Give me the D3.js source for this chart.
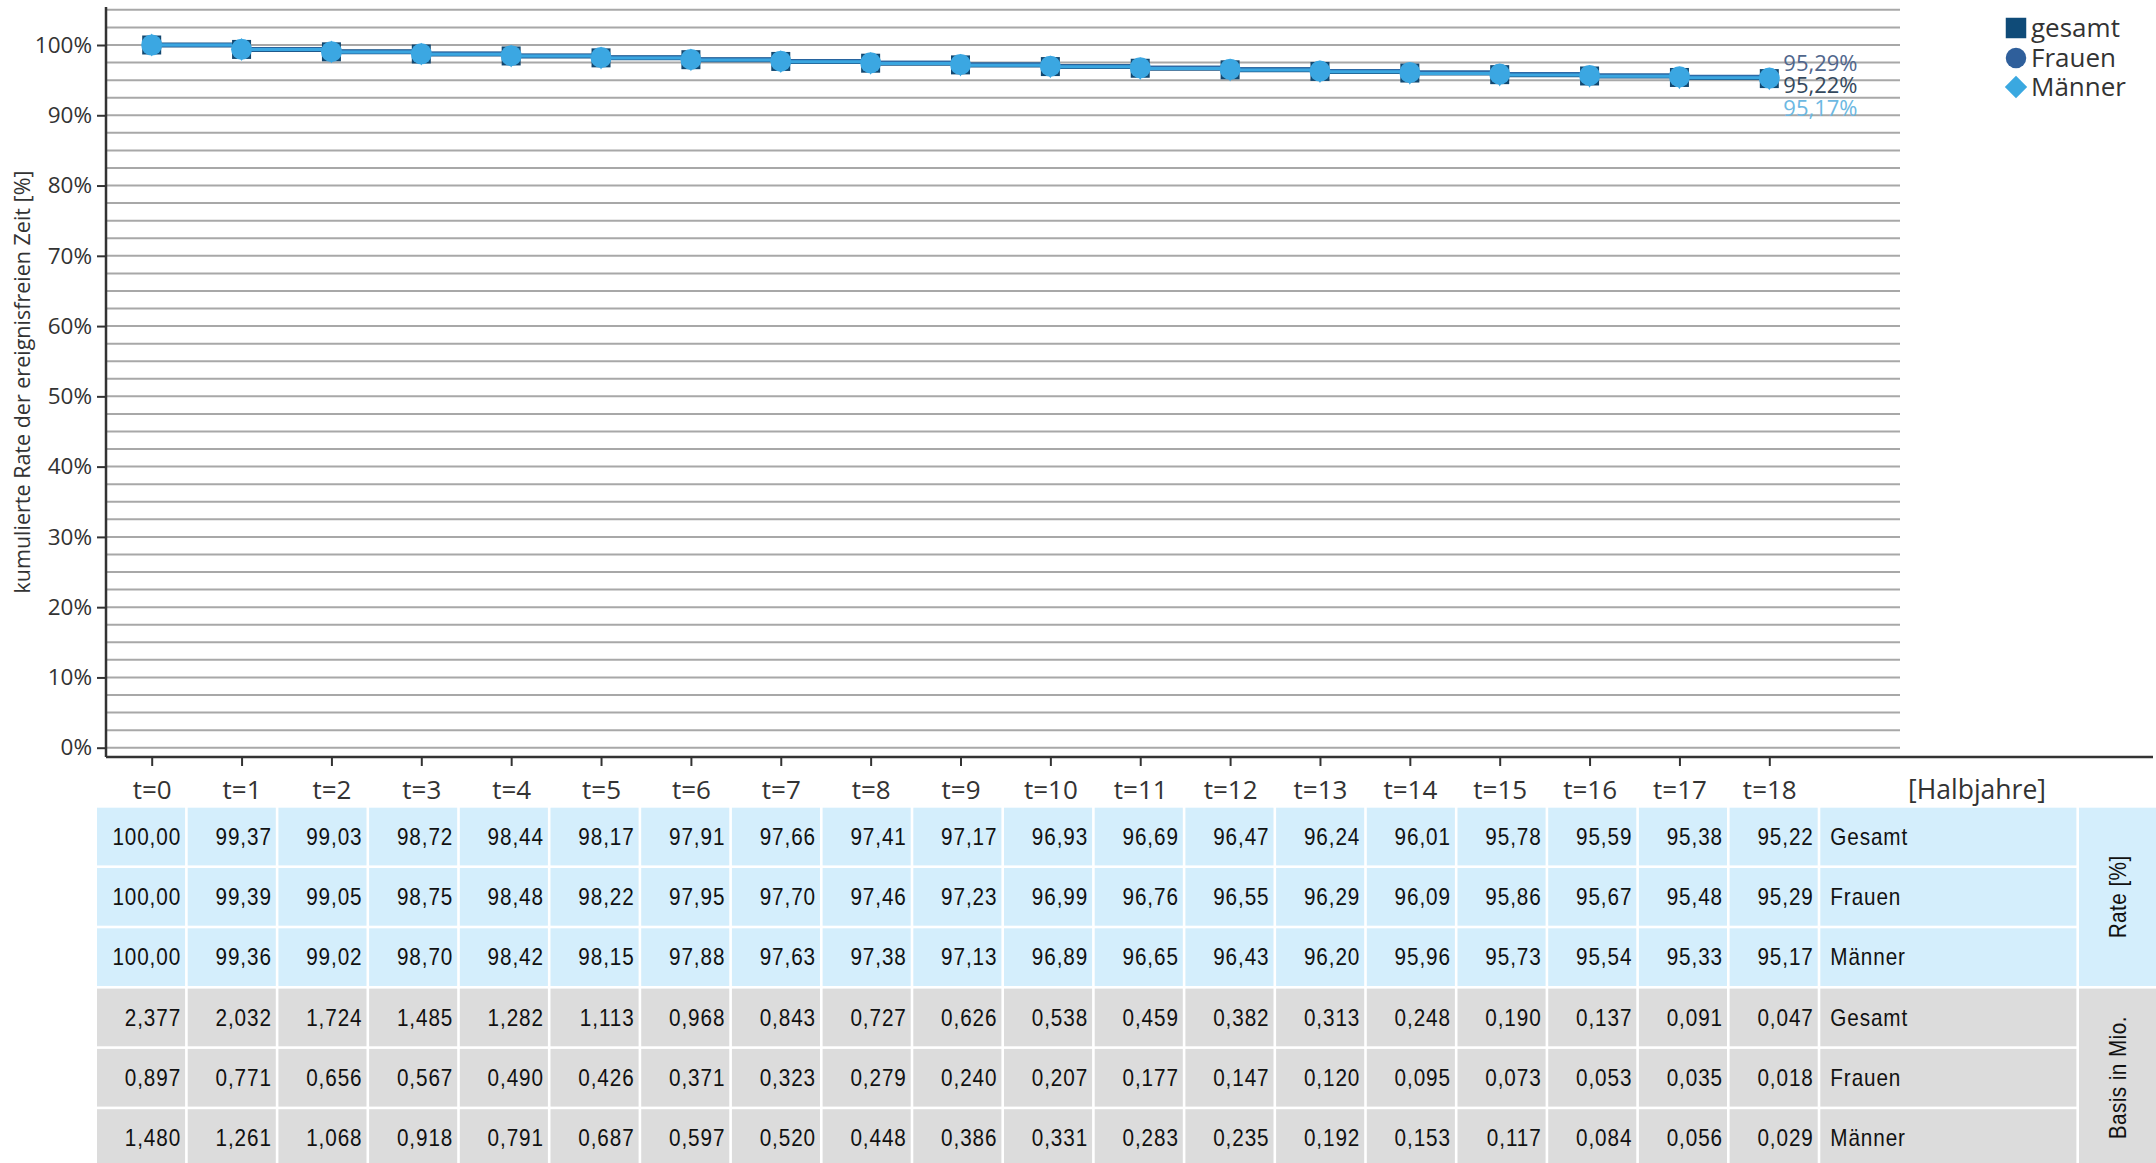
<!DOCTYPE html>
<html>
<head>
<meta charset="utf-8">
<script src="https://cdn.jsdelivr.net/npm/d3@7"></script>
<style>
  body { margin: 0; background: #fff; }
  svg { display: block; }
  .axis text { font-family: "Open Sans", sans-serif; fill: #333; }
  .tbl { font-family: "Liberation Sans", Arial, sans-serif; font-size: 23px; fill: #111; letter-spacing: 1px; }
</style>
</head>
<body>
<div id="chart"></div>
<script>
// tick labels
const tLabels = ["t=0","t=1","t=2","t=3","t=4","t=5","t=6","t=7","t=8","t=9",
                 "t=10","t=11","t=12","t=13","t=14","t=15","t=16","t=17","t=18"];
const yTicks = [0, 10, 20, 30, 40, 50, 60, 70, 80, 90, 100];

// cumulative event free rate [%]
const rateGesamt = [100.00, 99.37, 99.03, 98.72, 98.44, 98.17, 97.91, 97.66, 97.41, 97.17,
                    96.93, 96.69, 96.47, 96.24, 96.01, 95.78, 95.59, 95.38, 95.22];
const rateFrauen = [100.00, 99.39, 99.05, 98.75, 98.48, 98.22, 97.95, 97.70, 97.46, 97.23,
                    96.99, 96.76, 96.55, 96.29, 96.09, 95.86, 95.67, 95.48, 95.29];
const rateMaenner = [100.00, 99.36, 99.02, 98.70, 98.42, 98.15, 97.88, 97.63, 97.38, 97.13,
                     96.89, 96.65, 96.43, 96.20, 95.96, 95.73, 95.54, 95.33, 95.17];

// basis in Mio.
const basisGesamt = [2.377, 2.032, 1.724, 1.485, 1.282, 1.113, 0.968, 0.843, 0.727, 0.626,
                     0.538, 0.459, 0.382, 0.313, 0.248, 0.190, 0.137, 0.091, 0.047];
const basisFrauen = [0.897, 0.771, 0.656, 0.567, 0.490, 0.426, 0.371, 0.323, 0.279, 0.240,
                     0.207, 0.177, 0.147, 0.120, 0.095, 0.073, 0.053, 0.035, 0.018];
const basisMaenner = [1.480, 1.261, 1.068, 0.918, 0.791, 0.687, 0.597, 0.520, 0.448, 0.386,
                      0.331, 0.283, 0.235, 0.192, 0.153, 0.117, 0.084, 0.056, 0.029];

const seriesNames = ["gesamt", "Frauen", "Männer"];
const rowNames = ["Gesamt", "Frauen", "Männer"];

const W = 2156, H = 1163;
const svg = d3.select("#chart").append("svg").attr("width", W).attr("height", H);

// scales
const x = d3.scaleLinear().domain([0, 18]).range([151.7, 1769.3]);
const y = d3.scaleLinear().domain([0, 100]).range([747.7, 45]);
const axisX = 106, axisY = 757, gridRight = 1900;

// grid lines every 2.5%
svg.append("g").selectAll("line")
  .data(d3.range(0, 105.01, 2.5))
  .join("line")
    .attr("x1", axisX + 1).attr("x2", gridRight)
    .attr("y1", d => y(d)).attr("y2", d => y(d))
    .attr("stroke", "#a8a8a8").attr("stroke-width", 2);

// y axis
const gy = svg.append("g").attr("class", "axis")
  .attr("transform", "translate(" + axisX + ",0)")
  .call(d3.axisLeft(y).tickValues(yTicks).tickSize(9).tickFormat(d => d + "%"));
gy.select(".domain").remove();
gy.selectAll(".tick line").attr("stroke", "#333").attr("stroke-width", 2);
gy.selectAll(".tick text").attr("x", -14).attr("font-size", 22.5);
svg.append("line")
  .attr("x1", axisX).attr("x2", axisX).attr("y1", y(105.4)).attr("y2", axisY)
  .attr("stroke", "#333").attr("stroke-width", 2.5);

// x axis
const gx = svg.append("g").attr("class", "axis")
  .attr("transform", "translate(0," + axisY + ")")
  .call(d3.axisBottom(x).tickValues(d3.range(tLabels.length)).tickSize(9).tickFormat(i => tLabels[i]));
gx.select(".domain").remove();
gx.selectAll(".tick line").attr("stroke", "#333").attr("stroke-width", 2);
gx.selectAll(".tick text").attr("y", 33).attr("dy", "0.35em").attr("font-size", 26);
svg.append("line")
  .attr("x1", axisX).attr("x2", 2153).attr("y1", axisY).attr("y2", axisY)
  .attr("stroke", "#333").attr("stroke-width", 2.5);

svg.append("text")
  .attr("x", 1977).attr("y", 790).attr("dy", "0.35em")
  .attr("text-anchor", "middle")
  .style("font-family", "Open Sans, sans-serif").style("font-size", "26.5px").style("fill", "#333")
  .text("[Halbjahre]");

// y title
svg.append("text")
  .attr("transform", "translate(22,382) rotate(-90)")
  .attr("text-anchor", "middle").attr("dy", "0.35em")
  .style("font-family", "Open Sans, sans-serif").style("font-size", "21.5px").style("fill", "#333")
  .text("kumulierte Rate der ereignisfreien Zeit [%]");

// lines (step after, Kaplan-Meier style)
const line = d3.line().x((d, i) => x(i)).y(d => y(d)).curve(d3.curveStepAfter);
const lineDefs = [
  { data: rateGesamt, color: "#1b5685", width: 5 },
  { data: rateFrauen, color: "#2c6aa8", width: 4 },
  { data: rateMaenner, color: "#3aa6e0", width: 3 }
];
lineDefs.forEach(s => {
  svg.append("path").datum(s.data)
    .attr("d", line).attr("fill", "none")
    .attr("stroke", s.color).attr("stroke-width", s.width);
});

// markers
const markerDefs = [
  { data: rateGesamt, type: d3.symbolSquare, size: 361, color: "#12476f" },
  { data: rateMaenner, type: d3.symbolDiamond, size: 150, color: "#3aa6e0" },
  { data: rateFrauen, type: d3.symbolCircle, size: 346, color: "#3ba7e2" }
];
markerDefs.forEach(m => {
  svg.append("g").selectAll("path")
    .data(m.data)
    .join("path")
      .attr("transform", (d, i) => "translate(" + x(i) + "," + y(d) + ")")
      .attr("d", d3.symbol().type(m.type).size(m.size))
      .attr("fill", m.color);
});

// end labels
const locale = d3.formatLocale({ decimal: ",", thousands: ".", grouping: [3], currency: ["", "€"] });
const fmt2 = locale.format(".2f");
const fmt3 = locale.format(".3f");
const last = tLabels.length - 1;
const endLabels = [
  { v: rateFrauen[last], dy: -15, color: "#50668c" },
  { v: rateGesamt[last], dy: 6.5, color: "#34495e" },
  { v: rateMaenner[last], dy: 29, color: "#6cb8e2" }
];
endLabels.forEach(l => {
  svg.append("text")
    .attr("x", x(last) + 14).attr("y", y(l.v) + l.dy).attr("dy", "0.35em")
    .style("font-family", "Open Sans, sans-serif").style("font-size", "22px").style("fill", l.color)
    .text(fmt2(l.v) + "%");
});

// legend
const legend = svg.append("g").attr("transform", "translate(2016,0)");
const legendDefs = [
  { name: seriesNames[0], type: d3.symbolSquare, size: 420, color: "#0f4b78", y: 28, rot: 0 },
  { name: seriesNames[1], type: d3.symbolCircle, size: 330, color: "#2f5f9b", y: 58, rot: 0 },
  { name: seriesNames[2], type: d3.symbolSquare, size: 250, color: "#3aa8e0", y: 87, rot: 45 }
];
legendDefs.forEach(l => {
  legend.append("path")
    .attr("d", d3.symbol().type(l.type).size(l.size))
    .attr("fill", l.color)
    .attr("transform", "translate(0," + l.y + ") rotate(" + l.rot + ")");
  legend.append("text")
    .attr("x", 15).attr("y", l.y).attr("dy", "0.35em")
    .style("font-family", "Open Sans, sans-serif").style("font-size", "26px").style("fill", "#333")
    .text(l.name);
});

// table
const tableRows = [
  { vals: rateGesamt, fmt: fmt2, name: rowNames[0], fill: "#d4eefc" },
  { vals: rateFrauen, fmt: fmt2, name: rowNames[1], fill: "#d4eefc" },
  { vals: rateMaenner, fmt: fmt2, name: rowNames[2], fill: "#d4eefc" },
  { vals: basisGesamt, fmt: fmt3, name: rowNames[0], fill: "#dcdcdc" },
  { vals: basisFrauen, fmt: fmt3, name: rowNames[1], fill: "#dcdcdc" },
  { vals: basisMaenner, fmt: fmt3, name: rowNames[2], fill: "#dcdcdc" }
];
const tblLeft = 97, colW = 90.7, tblTop = 807.7, rowH = 60.3, gap = 2.6;
const nameLeft = tblLeft + tLabels.length * colW, nameW = 2079 - nameLeft;
const sideLeft = 2079, sideW = W - sideLeft;
const narrow = 0.9;
const table = svg.append("g");

tableRows.forEach((r, j) => {
  const ry = tblTop + j * rowH;
  const row = table.append("g");
  row.selectAll("rect")
    .data(r.vals)
    .join("rect")
      .attr("x", (d, i) => tblLeft + i * colW).attr("y", ry)
      .attr("width", colW - gap).attr("height", rowH - gap)
      .attr("fill", r.fill);
  row.selectAll("text")
    .data(r.vals)
    .join("text")
      .attr("class", "tbl")
      .attr("transform", (d, i) => "translate(" + (tblLeft + (i + 1) * colW - gap - 4) + "," + (ry + (rowH - gap) / 2) + ") scale(" + narrow + ",1)")
      .attr("dy", "0.35em").attr("text-anchor", "end")
      .text(d => r.fmt(d));
  row.append("rect")
    .attr("x", nameLeft).attr("y", ry).attr("width", nameW - gap).attr("height", rowH - gap)
    .attr("fill", r.fill);
  row.append("text").attr("class", "tbl")
    .attr("transform", "translate(" + (nameLeft + 10) + "," + (ry + (rowH - gap) / 2) + ") scale(" + narrow + ",1)")
    .attr("dy", "0.35em")
    .text(r.name);
});

// side group labels
const sideGroups = [
  { label: "Rate [%]", first: 0, fill: "#d4eefc" },
  { label: "Basis in Mio.", first: 3, fill: "#dcdcdc" }
];
sideGroups.forEach(g => {
  const gy0 = tblTop + g.first * rowH;
  table.append("rect")
    .attr("x", sideLeft).attr("y", gy0).attr("width", sideW).attr("height", 3 * rowH - gap)
    .attr("fill", g.fill);
  table.append("text").attr("class", "tbl")
    .attr("transform", "translate(" + (sideLeft + sideW / 2) + "," + (gy0 + (3 * rowH - gap) / 2) + ") rotate(-90) scale(" + narrow + ",1)")
    .attr("text-anchor", "middle").attr("dy", "0.35em")
    .style("letter-spacing", "0.5px")
    .text(g.label);
});
</script>
</body>
</html>
